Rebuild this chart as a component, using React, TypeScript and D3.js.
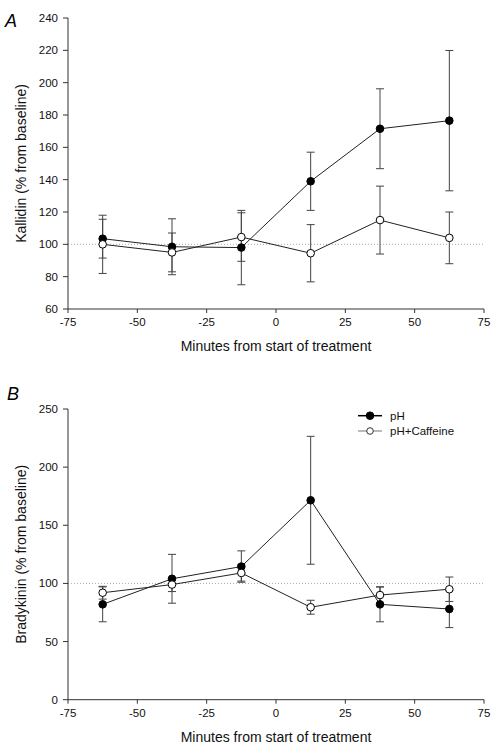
import React from "react";
import * as d3 from "d3";

const times = [-62.5, -37.5, -12.5, 12.5, 37.5, 62.5];
const xTicks = [-75, -50, -25, 0, 25, 50, 75];

const kallidinPH = [103.5, 98.5, 98, 139, 171.5, 176.5];
const kallidinPHErr = [12, 17.3, 23, 18, 24.7, 43.4];
const kallidinCaf = [100, 95, 104.5, 94.5, 115, 104];
const kallidinCafErr = [18, 12, 15, 17.7, 21, 16];
const kallidinTicks = [60, 80, 100, 120, 140, 160, 180, 200, 220, 240];

const bradyPH = [82, 104, 114.5, 171.5, 82, 78];
const bradyPHErr = [15, 21, 13.5, 55, 15, 16];
const bradyCaf = [92, 99, 109, 79.5, 90, 95];
const bradyCafErr = [5.5, 6, 7, 6, 7, 10.5];
const bradyTicks = [0, 50, 100, 150, 200, 250];

const legendLabels = ["pH", "pH+Caffeine"];

const FONT = "'Liberation Sans', Arial, sans-serif";
const AXIS = "#333";
const LINE = "#222";
const ERR = "#444";

type PanelProps = {
  letter: string;
  letterX: number;
  letterY: number;
  yDomain: [number, number];
  yRange: [number, number];
  yTicks: number[];
  yTitle: string;
  filled: number[];
  filledErr: number[];
  open: number[];
  openErr: number[];
  legend?: boolean;
};

function Panel(p: PanelProps) {
  const x = d3.scaleLinear().domain([-75, 75]).range([68, 484]);
  const y = d3.scaleLinear().domain(p.yDomain).range(p.yRange);
  const line = d3
    .line<number>()
    .x((_, i) => x(times[i]))
    .y((d) => y(d));
  const r = 3.8;
  const cap = 4;
  const [y0, y1] = p.yRange;
  const midY = (y0 + y1) / 2;

  const errBars = (vals: number[], errs: number[], key: string) =>
    vals.map((v, i) => {
      const cx = x(times[i]);
      const top = y(v + errs[i]);
      const bot = y(v - errs[i]);
      return (
        <g key={key + i} stroke={ERR} strokeWidth={1}>
          <line x1={cx} x2={cx} y1={top} y2={bot} />
          <line x1={cx - cap} x2={cx + cap} y1={top} y2={top} />
          <line x1={cx - cap} x2={cx + cap} y1={bot} y2={bot} />
        </g>
      );
    });

  return (
    <g>
      <text
        x={p.letterX}
        y={p.letterY}
        fontFamily={FONT}
        fontStyle="italic"
        fontSize={18}
        fill="#000"
      >
        {p.letter}
      </text>
      {/* reference line */}
      <line
        x1={x(-75)}
        x2={x(75)}
        y1={y(100)}
        y2={y(100)}
        stroke="#aaa"
        strokeWidth={1}
        strokeDasharray="1,2"
      />
      {/* y axis */}
      <line x1={68} x2={68} y1={y0} y2={y1} stroke={AXIS} strokeWidth={1} />
      {p.yTicks.map((t) => (
        <g key={"yt" + t}>
          <line x1={63} x2={68} y1={y(t)} y2={y(t)} stroke={AXIS} />
          <text
            x={58}
            y={y(t)}
            dy="0.35em"
            textAnchor="end"
            fontFamily={FONT}
            fontSize={11.5}
            fill="#111"
          >
            {t}
          </text>
        </g>
      ))}
      {/* x axis */}
      <line x1={68} x2={484} y1={y0} y2={y0} stroke={AXIS} strokeWidth={1} />
      {xTicks.map((t) => (
        <g key={"xt" + t}>
          <line x1={x(t)} x2={x(t)} y1={y0} y2={y0 + 4} stroke={AXIS} />
          <text
            x={x(t)}
            y={y0 + 17}
            textAnchor="middle"
            fontFamily={FONT}
            fontSize={11.5}
            fill="#111"
          >
            {t}
          </text>
        </g>
      ))}
      <text
        x={276}
        y={y0 + 42}
        textAnchor="middle"
        fontFamily={FONT}
        fontSize={14}
        fill="#111"
      >
        Minutes from start of treatment
      </text>
      <text
        transform={`translate(26,${midY}) rotate(-90)`}
        textAnchor="middle"
        fontFamily={FONT}
        fontSize={14}
        fill="#111"
      >
        {p.yTitle}
      </text>
      {errBars(p.filled, p.filledErr, "fe")}
      {errBars(p.open, p.openErr, "oe")}
      <path d={line(p.filled) || ""} fill="none" stroke={LINE} strokeWidth={1} />
      <path d={line(p.open) || ""} fill="none" stroke={LINE} strokeWidth={1} />
      {p.filled.map((v, i) => (
        <circle key={"fm" + i} cx={x(times[i])} cy={y(v)} r={r} fill="#000" stroke="#000" />
      ))}
      {p.open.map((v, i) => (
        <circle key={"om" + i} cx={x(times[i])} cy={y(v)} r={r} fill="#fff" stroke="#000" />
      ))}
      {p.legend && (
        <g>
          {legendLabels.map((lab, i) => {
            const ly = 415.7 + i * 15.3;
            return (
              <g key={lab}>
                <line
                  x1={358}
                  x2={382}
                  y1={ly}
                  y2={ly}
                  stroke={i === 0 ? "#000" : "#777"}
                  strokeWidth={i === 0 ? 1.5 : 1}
                />
                <circle
                  cx={370}
                  cy={ly}
                  r={i === 0 ? 3.8 : 3.3}
                  fill={i === 0 ? "#000" : "#fff"}
                  stroke={i === 0 ? "#000" : "#333"}
                />
                <text
                  x={390}
                  y={ly}
                  dy="0.35em"
                  fontFamily={FONT}
                  fontSize={11.5}
                  fill="#111"
                >
                  {lab}
                </text>
              </g>
            );
          })}
        </g>
      )}
    </g>
  );
}

export default function App() {
  return (
    <svg
      width={502}
      height={753}
      style={{ position: "absolute", left: 0, top: 0, background: "#fff" }}
    >
      <rect width={502} height={753} fill="#fff" />
      <Panel
        letter="A"
        letterX={5}
        letterY={27}
        yDomain={[60, 240]}
        yRange={[309, 18]}
        yTicks={kallidinTicks}
        yTitle="Kallidin (% from baseline)"
        filled={kallidinPH}
        filledErr={kallidinPHErr}
        open={kallidinCaf}
        openErr={kallidinCafErr}
      />
      <Panel
        letter="B"
        letterX={7}
        letterY={400}
        yDomain={[0, 250]}
        yRange={[699.7, 409]}
        yTicks={bradyTicks}
        yTitle="Bradykinin (% from baseline)"
        filled={bradyPH}
        filledErr={bradyPHErr}
        open={bradyCaf}
        openErr={bradyCafErr}
        legend
      />
    </svg>
  );
}
